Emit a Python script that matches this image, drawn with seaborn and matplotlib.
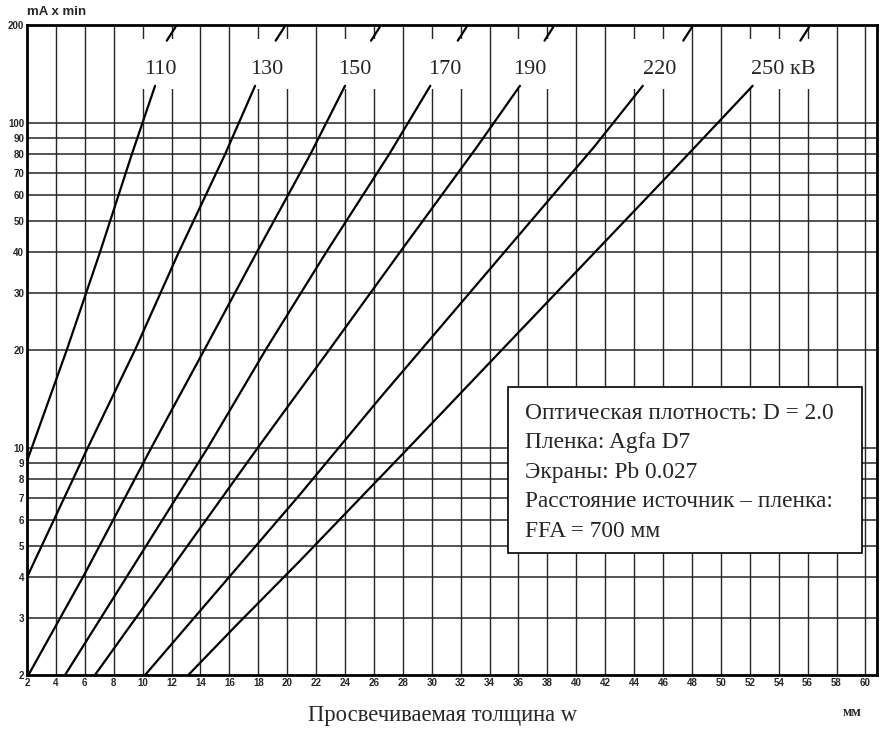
import matplotlib
matplotlib.use("Agg")
import matplotlib.pyplot as plt
from matplotlib.patches import Rectangle
from matplotlib.ticker import NullLocator
import seaborn as sns
import pandas as pd

sns.set_theme()
sns.set_style("white")
plt.rcParams['font.family'] = ['Liberation Serif', 'DejaVu Serif']


# Exposure curves: penetrated thickness w (mm) -> exposure (mA x min)

w_110 = [2.0, 4.75, 7.05, 9.25, 10.86]
e_110 = [9.1, 20, 40, 80, 130]

w_130 = [2.0, 6.2, 9.47, 12.5, 15.7, 17.78]
e_130 = [4, 10, 20, 40, 80, 130]

w_150 = [2.1, 6.0, 10.7, 14.34, 17.9, 21.6, 24.0]
e_150 = [2, 4.1, 10.2, 20.3, 40, 80, 130]

w_170 = [4.63, 14.5, 18.5, 22.7, 27.05, 29.9]
e_170 = [2, 10, 20, 40, 80, 130]

w_190 = [6.7, 18.1, 22.9, 27.8, 33.1, 36.1]
e_190 = [2, 10.2, 20, 40, 84, 130]

w_220 = [10.17, 20.9, 26.4, 41.2, 44.6]
e_220 = [2, 7.2, 14.2, 84, 130]

w_250 = [13.16, 16.5, 20.9, 28.3, 47.2, 52.2]
e_250 = [2, 2.85, 4.5, 9.9, 75.5, 130]

kv_names = ['110', '130', '150', '170', '190', '220', '250 кВ']
label_w = [11.2, 18.6, 24.7, 30.9, 36.8, 45.8, 54.3]
slash_w = [11.97, 19.5, 26.1, 32.1, 38.1, 47.7, 55.8]

y_ticks = [2, 3, 4, 5, 6, 7, 8, 9, 10, 20, 30, 40, 50, 60, 70, 80, 90, 100, 200]
x_ticks = list(range(2, 61, 2))

info_lines = [
    'Оптическая плотность: D = 2.0',
    'Пленка: Agfa D7',
    'Экраны: Pb 0.027',
    'Расстояние источник – пленка:',
    'FFA = 700 мм',
]

frames = []
for name, w, e in zip(kv_names,
                      [w_110, w_130, w_150, w_170, w_190, w_220, w_250],
                      [e_110, e_130, e_150, e_170, e_190, e_220, e_250]):
    frames.append(pd.DataFrame({'w': w, 'exposure': e, 'kV': name}))
data = pd.concat(frames, ignore_index=True)


# Plot

fig = plt.figure(figsize=(8.84, 7.31), dpi=100)
ax = fig.add_axes([27 / 884, 56 / 731, 850 / 884, 650 / 731])

sns.lineplot(data=data, x='w', y='exposure', units='kV', estimator=None,
             sort=False, color='black', linewidth=1.6, ax=ax, zorder=4,
             legend=False)

ax.set_yscale('log')
ax.set_xlim(2, 60.8)
ax.set_ylim(2, 200)

ax.set_yticks(y_ticks)
ax.set_yticklabels([str(v) for v in y_ticks])
ax.yaxis.set_minor_locator(NullLocator())
ax.set_xticks(x_ticks)
ax.set_xticklabels([str(v) for v in x_ticks])

for lab in ax.get_xticklabels() + ax.get_yticklabels():
    lab.set_family(['Liberation Sans', 'DejaVu Sans'])
    lab.set_fontweight('bold')
    lab.set_fontsize(7)
ax.tick_params(length=0, pad=2)

# grid
for v in y_ticks[1:-1]:
    ax.axhline(v, color='0.15', linewidth=1.1, zorder=1)
for v in x_ticks[1:]:
    ax.axvline(v, color='0.15', linewidth=1.0, zorder=1)

for s in ax.spines.values():
    s.set_color('black')
    s.set_linewidth(2)

# curve labels with white gaps in the grid
for name, lw_, sw in zip(kv_names, label_w, slash_w):
    half = 2.7 if 'кВ' in name else 2.1
    ax.add_patch(Rectangle((lw_ - half, 127), 2 * half, 54,
                           facecolor='white', edgecolor='none', zorder=2))
    ax.text(lw_, 146, name, ha='center', va='center', fontsize=16, zorder=5)
    ax.plot([sw - 0.3, sw + 0.3], [179, 197], color='black', linewidth=1.6,
            zorder=4)

# info box
ax.add_patch(Rectangle((0.566, 0.188), 0.416, 0.255, transform=ax.transAxes,
                       facecolor='white', edgecolor='black', linewidth=1.2,
                       zorder=6))
for i, line in enumerate(info_lines):
    ax.text(0.586, 0.403 - i * 0.0455, line, transform=ax.transAxes,
            ha='left', va='center', fontsize=16.8, zorder=7)

ax.set_xlabel('')
ax.set_ylabel('')
fig.text(27 / 884, 1 - 12 / 731, 'mA x min', ha='left', va='center',
         fontsize=9.5, fontweight='bold', family=['Liberation Sans', 'DejaVu Sans'])
fig.text(443 / 884, 1 - 716 / 731, 'Просвечиваемая толщина w', ha='center',
         va='center', fontsize=16.3)
fig.text(852 / 884, 1 - 712 / 731, 'мм', ha='center', va='center',
         fontsize=10, fontweight='bold')

fig.savefig('out.png', dpi=100)
